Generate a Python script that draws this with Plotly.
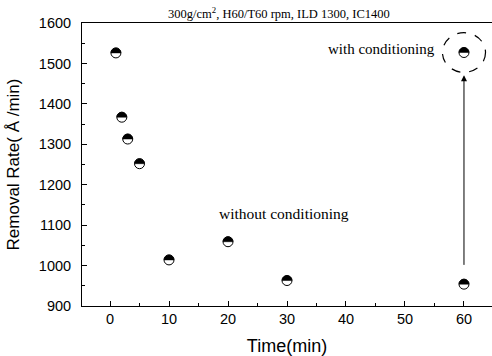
import plotly.graph_objects as go

time_wo = [1, 2, 3, 5, 10, 20, 30, 60]
rate_wo = [1526, 1367, 1313, 1252, 1014, 1059, 963, 954]
time_w = [60]
rate_w = [1527]
title_text = "300g/cm<sup>2</sup>, H60/T60 rpm, ILD 1300, IC1400"

fig = go.Figure()
allx = time_wo + time_w
ally = rate_wo + rate_w
R = 5
fig.add_trace(go.Scatter(x=allx, y=ally, mode="markers",
                         marker=dict(symbol="circle", size=2 * R, color="white",
                                     line=dict(color="black", width=1)),
                         showlegend=False, hoverinfo="skip"))
k = 0.5523 * R
half_path = (f"M {-R},0 C {-R},{k} {-k},{R} 0,{R} "
             f"C {k},{R} {R},{k} {R},0 Z")
for xv, yv in zip(allx, ally):
    fig.add_shape(type="path", xref="x", yref="y", xsizemode="pixel", ysizemode="pixel",
                  xanchor=xv, yanchor=yv, path=half_path,
                  fillcolor="black", line=dict(color="black", width=0.5))

serif = "Liberation Serif"
fig.add_annotation(x=0.48, y=1.0, xref="paper", yref="paper", yanchor="bottom",
                   text=title_text, showarrow=False, yshift=0,
                   font=dict(family=serif, size=12.5, color="black"))
fig.add_annotation(x=time_w[0], y=rate_w[0], text="with conditioning", showarrow=False,
                   xanchor="right", xshift=-27, yshift=4,
                   font=dict(family=serif, size=15, color="black"))
fig.add_annotation(x=29.5, y=1130, text="without conditioning", showarrow=False,
                   font=dict(family=serif, size=15.5, color="black"))
fig.add_annotation(x=time_w[0], y=rate_w[0] - 56, ax=time_w[0], ay=rate_wo[-1] + 44,
                   xref="x", yref="y", axref="x", ayref="y", text="",
                   showarrow=True, arrowhead=2, arrowsize=1.2, arrowwidth=1, arrowcolor="black")
fig.add_shape(type="circle", xref="x", yref="y",
              x0=time_w[0] - 3.65, x1=time_w[0] + 3.65, y0=rate_w[0] - 49, y1=rate_w[0] + 49,
              line=dict(color="black", width=1.2, dash="dash"))

axis_common = dict(showline=True, linecolor="black", linewidth=1, ticks="inside",
                   ticklen=5, tickcolor="black", showgrid=False, zeroline=False,
                   automargin=False,
                   tickfont=dict(family="Liberation Sans", size=14.5, color="black"))
fig.update_xaxes(range=[-4.75, 64.75], dtick=10, tick0=0, mirror=True,
                 minor=dict(ticks="inside", ticklen=3, dtick=5, tickcolor="black"),
                 title=dict(text="Time(min)", font=dict(family="Liberation Sans", size=18, color="black"), standoff=12),
                 **axis_common)
fig.update_yaxes(range=[900, 1600], dtick=100, mirror=False, ticklabelstandoff=7,
                 minor=dict(ticks="inside", ticklen=3, dtick=50, tickcolor="black"),
                 title=dict(text="Removal Rate( Å /min)", font=dict(family="Liberation Sans", size=17, color="black"), standoff=14),
                 **axis_common)
fig.update_layout(width=492, height=356, margin=dict(l=82, r=0, t=23, b=50),
                  plot_bgcolor="white", paper_bgcolor="white")
fig.write_html("out.html", config={"displayModeBar": False},
               post_script="document.body.style.margin='0';document.body.style.overflow='hidden';")
